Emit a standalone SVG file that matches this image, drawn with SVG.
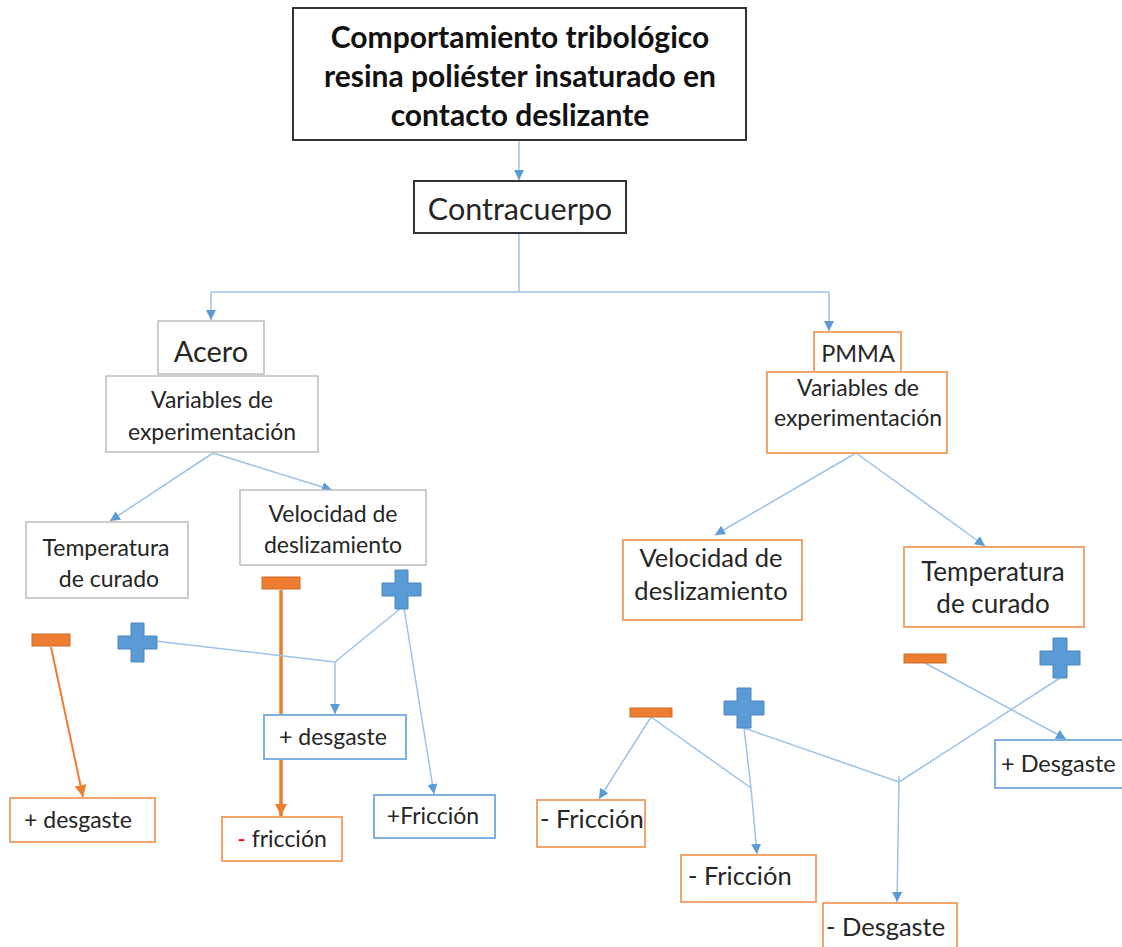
<svg xmlns="http://www.w3.org/2000/svg" width="1122" height="947" viewBox="0 0 1122 947">
<style>
text{font-family:Lato,"Open Sans","Liberation Sans",sans-serif;fill:#262626;text-anchor:middle}
.t{font-weight:bold;font-size:30px;fill:#111}
.gray{fill:#fff;stroke:#bdbdbd;stroke-width:1.5}
.dark{fill:#fff;stroke:#333;stroke-width:2}
.or{fill:#fff;stroke:#f4a56e;stroke-width:2}
.bl{fill:#fff;stroke:#7eb0e2;stroke-width:2}
.c{fill:none;stroke:#9cc2ea;stroke-width:1.5}
.co{fill:none;stroke:#ed7d31;stroke-width:2}
.cot{fill:none;stroke:#ed7d31;stroke-width:3.5}
.plus{fill:#5b9bd5;stroke:#4a86bd;stroke-width:1}
.minus{fill:#ed7d31;stroke:#d06a25;stroke-width:1}
.s{text-anchor:start}
</style>
<defs>
<marker id="ab" viewBox="0 0 10 10" refX="10" refY="5" markerWidth="10" markerHeight="10" markerUnits="userSpaceOnUse" orient="auto"><path d="M0,0L10,5L0,10z" fill="#5b9bd5"/></marker>
<marker id="ao" viewBox="0 0 10 10" refX="10" refY="5" markerWidth="12" markerHeight="12" markerUnits="userSpaceOnUse" orient="auto"><path d="M0,0L10,5L0,10z" fill="#ed7d31"/></marker>
</defs>
<g id="connectors">
<path class="c" d="M519,140V180" marker-end="url(#ab)"/>
<path class="c" d="M519,233V292M211,292H829"/>
<path class="c" d="M211,292V320" marker-end="url(#ab)"/>
<path class="c" d="M829,292V331" marker-end="url(#ab)"/>
<path class="c" d="M213,453L110,521" marker-end="url(#ab)"/>
<path class="c" d="M213,453L332,490" marker-end="url(#ab)"/>
<path class="c" d="M856,453L715,535" marker-end="url(#ab)"/>
<path class="c" d="M856,453L985,546" marker-end="url(#ab)"/>
<path class="co" d="M51,647L83,797" marker-end="url(#ao)"/>
<path class="cot" d="M281,590V816" marker-end="url(#ao)"/>
<path class="c" d="M155,641L335,662M401,608L335,662"/>
<path class="c" d="M335,662V714" marker-end="url(#ab)"/>
<path class="c" d="M404,608L434,794" marker-end="url(#ab)"/>
<path class="c" d="M651,717L599,799" marker-end="url(#ab)"/>
<path class="c" d="M651,717L751,788M744,728L751,788"/>
<path class="c" d="M751,788L757,854" marker-end="url(#ab)"/>
<path class="c" d="M744,728L899,782M1060,678L899,782M899,776V782"/>
<path class="c" d="M899,782L897,902" marker-end="url(#ab)"/>
<path class="c" d="M925,663L1066,739" marker-end="url(#ab)"/>
</g>
<g id="title"><rect class="dark" x="293" y="8" width="453" height="132"/>
<text class="t" x="520" y="48">Comportamiento tribológico</text>
<text class="t" x="520" y="87">resina poliéster insaturado en</text>
<text class="t" x="520" y="126">contacto deslizante</text></g>
<g id="contracuerpo"><rect class="dark" x="414" y="181" width="212" height="52" stroke-width="1.5"/><text x="520" y="220" font-size="30.5">Contracuerpo</text></g>
<g id="acero"><rect class="gray" x="158" y="321" width="106" height="53"/><text x="211" y="362" font-size="29">Acero</text></g>
<g id="vars-acero"><rect class="gray" x="106" y="376" width="212" height="76"/><text x="212" y="408" font-size="23">Variables de</text><text x="212" y="440" font-size="23">experimentación</text></g>
<g id="temp-acero"><rect class="gray" x="26" y="522" width="162" height="76"/><text x="106" y="556" font-size="23">Temperatura</text><text x="109" y="587" font-size="23">de curado</text></g>
<g id="vel-acero"><rect class="gray" x="240" y="490" width="186" height="75"/><text x="333" y="522" font-size="23">Velocidad de</text><text x="333" y="553" font-size="23">deslizamiento</text></g>
<g id="minus-a1"><rect class="minus" x="262" y="577" width="38" height="12"/></g>
<g id="plus-a1"><path class="plus" d="M395,570h13v13h13v13h-13v13h-13v-13h-13v-13h13z"/></g>
<g id="minus-a2"><rect class="minus" x="32" y="634" width="38" height="12"/></g>
<g id="plus-a2"><path class="plus" d="M131,623h13v13h13v13h-13v13h-13v-13h-13v-13h13z"/></g>
<g id="desgaste-a1"><rect class="or" x="10" y="798" width="145" height="44"/><text x="78" y="828" font-size="23">+ desgaste</text></g>
<g id="desgaste-a2"><rect class="bl" x="264" y="715" width="142" height="44"/><text x="333" y="745" font-size="23">+ desgaste</text></g>
<g id="friccion-a1"><rect class="or" x="222" y="817" width="120" height="44"/><text x="282" y="847" font-size="23"><tspan fill="#ff0000">-</tspan> fricción</text></g>
<g id="friccion-a2"><rect class="bl" x="374" y="795" width="121" height="43"/><text x="433" y="824" font-size="23">+Fricción</text></g>
<g id="pmma"><rect class="or" x="814" y="332" width="87" height="40"/><text x="858" y="362" font-size="23.5">PMMA</text></g>
<g id="vars-pmma"><rect class="or" x="767" y="372" width="180" height="81"/><text x="858" y="396" font-size="23">Variables de</text><text x="858" y="426" font-size="23">experimentación</text></g>
<g id="vel-pmma"><rect class="or" x="623" y="540" width="179" height="80"/><text x="711" y="567" font-size="25.5">Velocidad de</text><text x="711" y="600" font-size="25.5">deslizamiento</text></g>
<g id="temp-pmma"><rect class="or" x="904" y="547" width="180" height="80"/><text x="993" y="581" font-size="26">Temperatura</text><text x="993" y="613" font-size="26">de curado</text></g>
<g id="minus-p1"><rect class="minus" x="630" y="708" width="42" height="9"/></g>
<g id="plus-p1"><path class="plus" d="M737,688h14v13h13v14h-13v13h-14v-13h-13v-14h13z"/></g>
<g id="minus-p2"><rect class="minus" x="904" y="654" width="42" height="9"/></g>
<g id="plus-p2"><path class="plus" d="M1053,638h14v13h13v14h-13v13h-14v-13h-13v-14h13z"/></g>
<g id="desgaste-p1"><rect class="bl" x="995" y="740" width="135" height="48"/><text class="s" x="1001" y="772" font-size="23.5">+ Desgaste</text></g>
<g id="friccion-p1"><rect class="or" x="537" y="800" width="108" height="47"/><text class="s" x="540" y="828" font-size="25.5">- Fricción</text></g>
<g id="friccion-p2"><rect class="or" x="681" y="855" width="135" height="47"/><text class="s" x="688" y="885" font-size="25.5">- Fricción</text></g>
<g id="desgaste-p2"><rect class="or" x="823" y="903" width="134" height="50"/><text class="s" x="826" y="936" font-size="25.5">- Desgaste</text></g>
</svg>
